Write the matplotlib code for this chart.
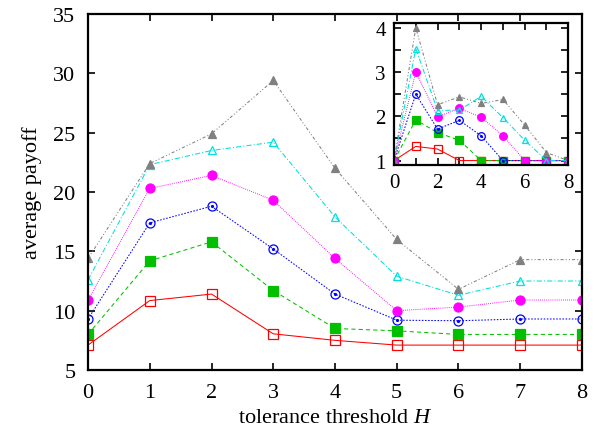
import numpy as np
import matplotlib
matplotlib.use('Agg')
import matplotlib.pyplot as plt

plt.rcParams['font.family'] = 'serif'
plt.rcParams['font.serif'] = ['Liberation Serif', 'DejaVu Serif']
plt.rcParams['mathtext.fontset'] = 'custom'
plt.rcParams['mathtext.rm'] = 'Liberation Serif'
plt.rcParams['mathtext.it'] = 'Liberation Serif:italic'
plt.rcParams['font.size'] = 16

H = [0, 1, 2, 3, 4, 5, 6, 7, 8]

# main panel: average payoff
red_main = [7.1, 10.85, 11.4, 8.05, 7.5, 7.1, 7.1, 7.1, 7.1]
green_main = [8.0, 14.2, 15.8, 11.7, 8.5, 8.3, 8.0, 8.0, 8.0]
blue_main = [9.3, 17.4, 18.8, 15.2, 11.4, 9.2, 9.15, 9.3, 9.3]
magenta_main = [10.9, 20.3, 21.4, 19.3, 14.4, 10.0, 10.3, 10.9, 10.9]
cyan_main = [12.6, 22.3, 23.5, 24.2, 17.9, 12.9, 11.3, 12.5, 12.5]
gray_main = [14.4, 22.4, 24.9, 29.4, 22.0, 16.0, 11.8, 14.3, 14.3]

# inset
red_in = [1.0, 1.32, 1.26, 1.0, 1.0, 1.0, 1.0, 1.0, 1.0]
green_in = [1.0, 1.92, 1.63, 1.46, 1.0, 1.0, 1.0, 1.0, 1.0]
blue_in = [1.0, 2.5, 1.71, 1.91, 1.56, 1.0, 1.0, 1.0, 1.0]
magenta_in = [1.0, 3.0, 1.99, 2.18, 1.98, 1.56, 1.0, 1.0, 1.0]
cyan_in = [1.0, 3.53, 2.13, 2.14, 2.45, 1.97, 1.46, 1.0, 1.0]
gray_in = [1.0, 4.0, 2.26, 2.44, 2.29, 2.38, 1.8, 1.18, 1.0]

styles = [
    dict(color='#ff0000', ls='-', marker='s', mfc='none', k=1.0),
    dict(color='#00c000', ls=(0, (4, 3)), marker='s', mfc='#00c000', k=1.0),
    dict(color='#0000ff', ls=(0, (1.5, 1.5)), marker='o', mfc='none', k=1.0),
    dict(color='#ff00ff', ls=(0, (0.8, 1.2)), marker='o', mfc='#ff00ff', k=1.0),
    dict(color='#00e0e0', ls=(0, (5, 2, 1, 2)), marker='^', mfc='none', k=0.9),
    dict(color='#808080', ls=(0, (3, 2, 1, 2, 1, 2)), marker='^', mfc='#808080', k=0.8),
]


def draw(ax, series, ms, lw):
    for vals, st in zip(series, styles):
        ax.plot(H, vals, color=st['color'], ls=st['ls'], lw=lw, marker=st['marker'],
                mfc=st['mfc'], mec=st['color'], ms=ms * st['k'], mew=0.9)
        if st['marker'] == 'o' and st['mfc'] == 'none':
            ax.plot(H, vals, ls='none', marker='o', ms=ms * 0.2, color=st['color'])


def frame(ax, lw):
    for s in ax.spines.values():
        s.set_linewidth(lw)
    ax.tick_params(which='both', direction='in', top=True, right=True, length=5, width=1.2)


fig = plt.figure(figsize=(5.98, 4.35), dpi=100)
ax = fig.add_axes([0.1472, 0.1471, 0.826, 0.8184])
draw(ax, [red_main, green_main, blue_main, magenta_main, cyan_main, gray_main], 6.5, 0.75)
ax.set_xlim(0, 8)
ax.set_ylim(5, 35)
ax.set_xticks(range(0, 9))
ax.set_yticks(range(5, 36, 5))
frame(ax, 1.6)
ax.tick_params(axis='x', pad=9)
ax.tick_params(axis='y', pad=9)
ax.set_xlabel('tolerance threshold $H$', labelpad=5)
ax.set_ylabel('average payoff', labelpad=8)

ins = fig.add_axes([0.6589, 0.6184, 0.2914, 0.3257])
ins.set_facecolor('white')
draw(ins, [red_in, green_in, blue_in, magenta_in, cyan_in, gray_in], 5.5, 0.75)
ins.set_xlim(0, 8)
ins.set_ylim(0.9, 4.1)
ins.set_xticks(range(0, 9))
ins.set_xticklabels([str(i) if i % 2 == 0 else '' for i in range(0, 9)])
yt = np.arange(1, 4.01, 0.5)
ins.set_yticks(yt)
ins.set_yticklabels([('%d' % v) if v == int(v) else '' for v in yt])
frame(ins, 1.6)
ins.tick_params(labelsize=15, pad=6)

fig.savefig('out.png', dpi=100)
